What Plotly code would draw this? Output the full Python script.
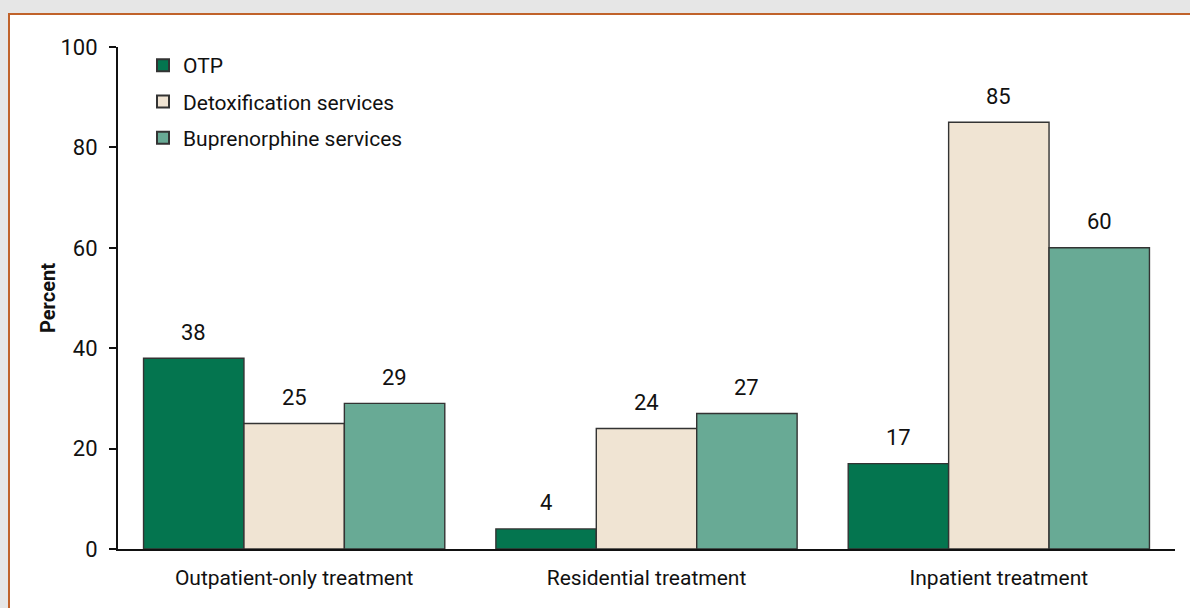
import plotly.graph_objects as go

categories = ["Outpatient-only treatment", "Residential treatment", "Inpatient treatment"]
series_names = ["OTP", "Detoxification services", "Buprenorphine services"]
otp = [38, 4, 17]
detox = [25, 24, 85]
bup = [29, 27, 60]
y_ticks = [0, 20, 40, 60, 80, 100]

colors = ["#04754f", "#f0e4d3", "#68aa95"]
FONT = "Roboto, sans-serif"
FS = 22
FS_TXT = 21

fig = go.Figure()
all_vals = [otp, detox, bup]
for name, vals, col in zip(series_names, all_vals, colors):
    fig.add_trace(go.Bar(
        x=categories, y=vals, name=name, legendgroup=name,
        marker=dict(color=col, line=dict(color="#333333", width=1.4)),
    ))

bargap = 0.145
n = len(all_vals)
w = (1 - bargap) / n
for k, vals in enumerate(all_vals):
    for i, v in enumerate(vals):
        fig.add_annotation(
            x=i + (k - (n - 1) / 2) * w, y=v, xref="x", yref="y",
            text=str(v), showarrow=False, yanchor="middle", yshift=26,
            font=dict(family=FONT, size=FS, color="#111111"),
        )

L, R, T, B = 118, 15, 47, 59
W, H = 1190, 608
pw, ph = W - L - R, H - T - B
def px(xp):
    return (xp - L) / pw
def py(yp):
    return (H - B - yp) / ph

fig.add_shape(type="rect", xref="paper", yref="paper",
              x0=px(9), x1=px(1200), y0=py(620), y1=py(14),
              fillcolor="white", line=dict(color="#c0622a", width=2), layer="below")

fig.update_layout(
    width=W, height=H,
    margin=dict(l=L, r=R, t=T, b=B),
    paper_bgcolor="#e6e6e6",
    plot_bgcolor="rgba(0,0,0,0)",
    barmode="group", bargap=bargap, bargroupgap=0,
    font=dict(family=FONT, size=FS, color="#111111"),
    showlegend=True,
    legend=dict(x=px(143), y=py(45), xanchor="left", yanchor="top",
                bgcolor="rgba(0,0,0,0)", font=dict(family=FONT, size=FS_TXT),
                tracegroupgap=6, itemsizing="constant", traceorder="grouped"),
    xaxis=dict(showline=True, linecolor="#111111", linewidth=2,
               ticks="", tickfont=dict(family=FONT, size=FS_TXT),
               range=[-0.5, 2.5], fixedrange=True, ticklabelstandoff=9),
    yaxis=dict(range=[0, 100], tickvals=y_ticks, showline=True,
               linecolor="#111111", linewidth=2, ticks="outside", ticklen=7,
               tickwidth=2, tickcolor="#111111", showgrid=False, zeroline=False,
               tickfont=dict(family=FONT, size=FS), ticklabelstandoff=7,
               title=dict(text="<b>Percent</b>", font=dict(family=FONT, size=20),
                          standoff=0)),
)

fig.write_html("out.html", config={"displayModeBar": False},
               post_script="document.body.style.margin='0';document.body.style.overflow='hidden';")
